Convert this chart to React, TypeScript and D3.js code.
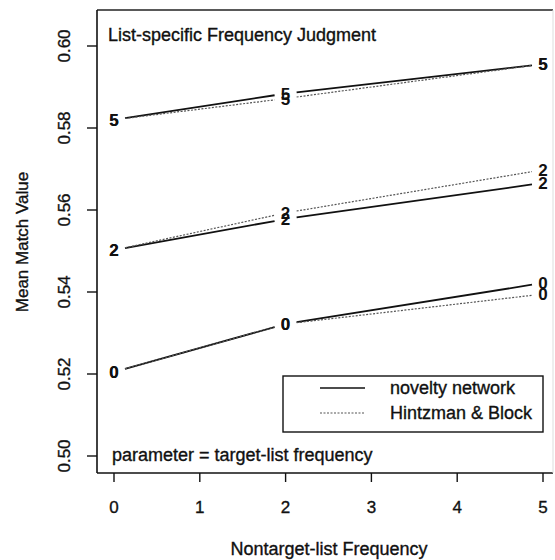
import React from "react";
import * as d3 from "d3";

const nontargetFreq = [0, 2, 5];
const targetLabels = ["0", "2", "5"];
// novelty network (solid)
const noveltyT0 = [0.5205, 0.5322, 0.5422];
const noveltyT2 = [0.5502, 0.5578, 0.5666];
const noveltyT5 = [0.582, 0.5884, 0.5956];
// Hintzman & Block (dotted)
const hbT0 = [0.5205, 0.5322, 0.5395];
const hbT2 = [0.5502, 0.5593, 0.5698];
const hbT5 = [0.582, 0.5872, 0.5956];

const xTicks = [0, 1, 2, 3, 4, 5];
const yTicks = [0.5, 0.52, 0.54, 0.56, 0.58, 0.6];
const legendLabels = ["novelty network", "Hintzman & Block"];

const FONT = "'Liberation Sans', Arial, Helvetica, sans-serif";
const TXT = { fill: "#111", stroke: "#111", strokeWidth: 0.35 };

export default function App() {
  const W = 555;
  const H = 560;
  const frame = { left: 97, right: 553, top: 10, bottom: 473 };
  const x = d3.scaleLinear().domain([0, 5]).range([114, 543]);
  const y = d3.scaleLinear().domain([0.5, 0.6]).range([456, 46]);

  const series = [
    { vals: noveltyT0, label: targetLabels[0], dotted: false },
    { vals: noveltyT2, label: targetLabels[1], dotted: false },
    { vals: noveltyT5, label: targetLabels[2], dotted: false },
    { vals: hbT0, label: targetLabels[0], dotted: true },
    { vals: hbT2, label: targetLabels[1], dotted: true },
    { vals: hbT5, label: targetLabels[2], dotted: true },
  ];

  const gap = 11;
  const segs: any[] = [];
  series.forEach((s, si) => {
    for (let i = 0; i < nontargetFreq.length - 1; i++) {
      const x0 = x(nontargetFreq[i]);
      const y0 = y(s.vals[i]);
      const x1 = x(nontargetFreq[i + 1]);
      const y1 = y(s.vals[i + 1]);
      const dx = x1 - x0;
      const t0 = gap / dx;
      const t1 = 1 - gap / dx;
      segs.push({
        key: `${si}-${i}`,
        dotted: s.dotted,
        x1: x0 + dx * t0,
        y1: y0 + (y1 - y0) * t0,
        x2: x0 + dx * t1,
        y2: y0 + (y1 - y0) * t1,
      });
    }
  });

  return (
    <svg
      width={W}
      height={H}
      style={{ position: "absolute", left: 0, top: 0, background: "#fff" }}
      fontFamily={FONT}
    >
      <rect x={0} y={0} width={W} height={H} fill="#fff" />
      {/* frame */}
      <line x1={frame.left} x2={frame.right} y1={frame.top} y2={frame.top} stroke="#222" strokeWidth={1.6} />
      <line x1={frame.left} x2={frame.right} y1={frame.bottom} y2={frame.bottom} stroke="#111" strokeWidth={1.6} />
      <line x1={frame.left} x2={frame.left} y1={frame.top} y2={frame.bottom} stroke="#111" strokeWidth={1.6} />
      <line x1={frame.right} x2={frame.right} y1={frame.top} y2={frame.bottom} stroke="#ddd" strokeWidth={1} />

      {/* y axis */}
      {yTicks.map((t) => (
        <g key={`y${t}`}>
          <line x1={87} x2={frame.left} y1={y(t)} y2={y(t)} stroke="#111" strokeWidth={1.4} />
          <text
            transform={`translate(70,${y(t)}) rotate(-90)`}
            textAnchor="middle"
            fontSize={17}
            {...TXT}
          >
            {t.toFixed(2)}
          </text>
        </g>
      ))}
      {/* x axis */}
      {xTicks.map((t) => (
        <g key={`x${t}`}>
          <line x1={x(t)} x2={x(t)} y1={frame.bottom} y2={482} stroke="#111" strokeWidth={1.4} />
          <text x={x(t)} y={513} textAnchor="middle" fontSize={17} {...TXT}>
            {t}
          </text>
        </g>
      ))}

      <text x={329} y={555} textAnchor="middle" fontSize={18} {...TXT}>
        Nontarget-list Frequency
      </text>
      <text transform={`translate(28,242) rotate(-90)`} textAnchor="middle" fontSize={17} {...TXT}>
        Mean Match Value
      </text>

      <text x={108} y={41} fontSize={18} {...TXT}>
        List-specific Frequency Judgment
      </text>
      <text x={112} y={461} fontSize={18} {...TXT}>
        parameter = target-list frequency
      </text>

      {/* lines */}
      {segs.map((s) => (
        <line
          key={s.key}
          x1={s.x1}
          y1={s.y1}
          x2={s.x2}
          y2={s.y2}
          stroke={s.dotted ? "#555" : "#111"}
          strokeWidth={s.dotted ? 1.2 : 1.8}
          strokeDasharray={s.dotted ? "2,1.5" : undefined}
        />
      ))}
      {/* point labels */}
      {series.map((s, si) =>
        s.vals.map((v, i) => (
          <text
            key={`l${si}-${i}`}
            x={x(nontargetFreq[i])}
            y={y(v)}
            dy="0.36em"
            textAnchor="middle"
            fontSize={17}
            fontWeight="bold"
            fill="#111"
          >
            {s.label}
          </text>
        ))
      )}

      {/* legend */}
      <rect x={283} y={376} width={260} height={56} fill="#fff" stroke="#111" strokeWidth={1.4} />
      <line x1={320} x2={365} y1={388} y2={388} stroke="#111" strokeWidth={1.6} />
      <line x1={320} x2={365} y1={413} y2={413} stroke="#555" strokeWidth={1.2} strokeDasharray="2,1.5" />
      <text x={390} y={394} fontSize={18} {...TXT}>
        {legendLabels[0]}
      </text>
      <text x={390} y={419} fontSize={18} {...TXT}>
        {legendLabels[1]}
      </text>
    </svg>
  );
}
